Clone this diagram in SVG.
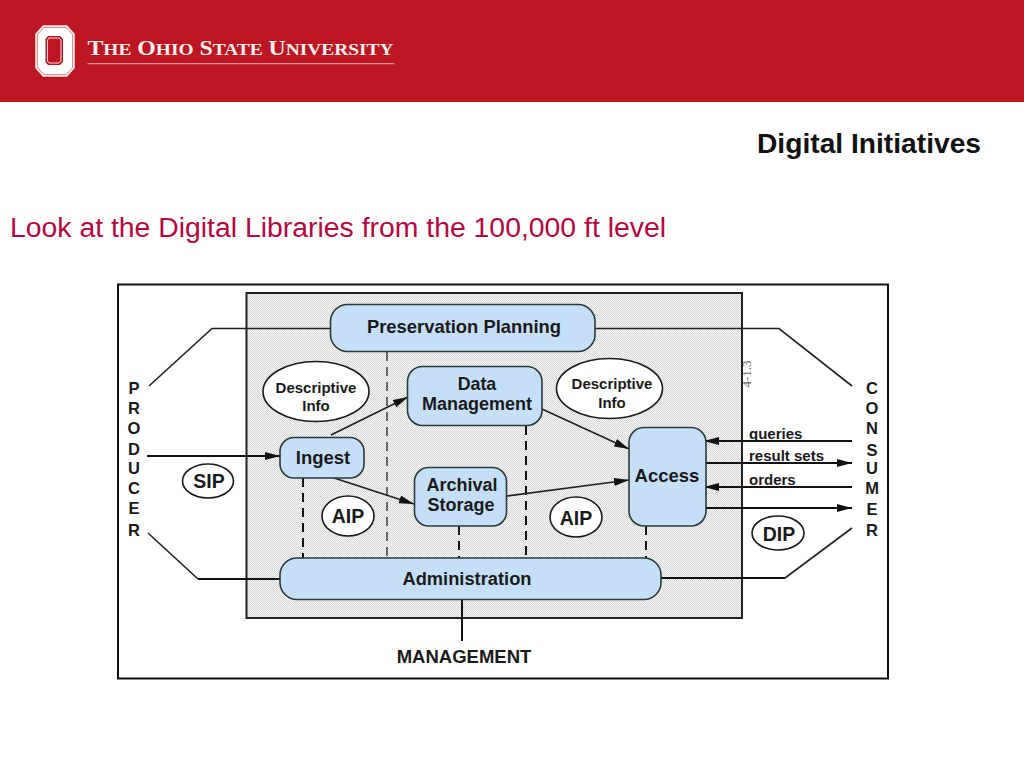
<svg xmlns="http://www.w3.org/2000/svg" width="1024" height="768" viewBox="0 0 1024 768">
<style>
.s{font-family:"Liberation Sans",Arial,sans-serif;font-weight:bold;fill:#1a1a1a;text-anchor:middle}
.la{text-anchor:start}
.box{fill:#c5dff8;stroke:#2a3a3a;stroke-width:1.6}
.ell{fill:#fff;stroke:#1a1a1a;stroke-width:1.6}
.ln{fill:none;stroke:#222;stroke-width:1.6}
.th{fill:none;stroke:#111;stroke-width:2}
.da{fill:none;stroke:#111;stroke-width:2;stroke-dasharray:9 6}
.da1{fill:none;stroke:#333;stroke-width:1.4;stroke-dasharray:9 6}
.serif{font-family:"Liberation Serif","Times New Roman",serif;font-weight:bold;fill:#f7eeee}
</style>
<defs>
<pattern id="dots" width="2" height="2" patternUnits="userSpaceOnUse">
<rect width="2" height="2" fill="#f4f4f4"/>
<rect width="1" height="1" fill="#d8d8d8"/>
<rect x="1" y="1" width="1" height="1" fill="#d8d8d8"/>
</pattern>
<marker id="ah" markerUnits="userSpaceOnUse" markerWidth="16" markerHeight="10" refX="15" refY="5" orient="auto">
<path d="M0,1 L15,5 L0,9 Z" fill="#111"/>
</marker>
</defs>
<rect width="1024" height="768" fill="#fff"/>
<g id="header">
<rect width="1024" height="102" fill="#bb1622"/>
<g id="logo">
<path d="M43,25.500 H67 L74.500,34 V68 L67,76.500 H43 L35.500,68 V34 Z" fill="#fff" stroke="#e8b9bb" stroke-width="1"/>
<path d="M37.300,34.500 L44,27.300 H66 L72.700,34.500 V67.500 L66,74.700 H44 L37.300,67.500 Z" fill="none" stroke="#c9525a" stroke-width="0.8"/>
<path d="M48,36 H60 L63,39 V62 L60,65 H48 L45.500,62 V39 Z" fill="#bb1622"/>
<path d="M49,38 H59 L61,40 V61 L59,63 H49 L47.500,61 V40 Z" fill="#bb1622" stroke="#f3d5d7" stroke-width="1"/>
</g>
<text class="serif" x="87.500" y="55" font-size="21.500" textLength="306" lengthAdjust="spacingAndGlyphs">T<tspan font-size="17.500">HE</tspan> O<tspan font-size="17.500">HIO</tspan> S<tspan font-size="17.500">TATE</tspan> U<tspan font-size="17.500">NIVERSITY</tspan></text>
<rect x="87.500" y="63" width="307" height="1.300" fill="#e58c90"/>
</g>
<text id="title" x="869" y="153" font-family="Liberation Sans,Arial,sans-serif" font-size="28" font-weight="bold" fill="#111" text-anchor="middle" textLength="224" lengthAdjust="spacingAndGlyphs">Digital Initiatives</text>
<text id="subtitle" x="10" y="237" font-family="Liberation Sans,Arial,sans-serif" font-size="27" fill="#b5073f" textLength="656" lengthAdjust="spacingAndGlyphs">Look at the Digital Libraries from the 100,000 ft level</text>
<g id="frame">
<rect x="118" y="284.500" width="770" height="394" fill="#fff" stroke="#111" stroke-width="2"/>
<rect x="246.500" y="293" width="495.500" height="325" fill="url(#dots)" stroke="#222" stroke-width="2"/>
</g>
<g id="connectors">
<path class="ln" d="M149,386 L212,328.500 H331"/>
<path class="ln" d="M595,328.500 H779 L852,386"/>
<path class="ln" d="M148,533 L198,579"/>
<path class="th" d="M198,579 H280"/>
<path class="th" d="M661,578 H785"/>
<path class="ln" d="M785,578 L852,528"/>
<path class="da1" d="M387,352 V558"/>
<path class="da" d="M526,426 V558"/>
<path class="da" d="M303,478 V558"/>
<path class="da" d="M459,526 V558"/>
<path class="da" d="M646,526 V558"/>
<path class="th" d="M462,600 V641"/>
<path class="th" d="M147,456 H280" marker-end="url(#ah)"/>
<path class="ln" d="M331,435 L408,397" marker-end="url(#ah)"/>
<path class="ln" d="M331,477 L414,504" marker-end="url(#ah)"/>
<path class="ln" d="M507,496 L629,480" marker-end="url(#ah)"/>
<path class="ln" d="M542,409 L629,449" marker-end="url(#ah)"/>
<path class="th" d="M852,441 H704" marker-end="url(#ah)"/>
<path class="th" d="M706,463 H852" marker-end="url(#ah)"/>
<path class="th" d="M852,487 H704" marker-end="url(#ah)"/>
<path class="th" d="M706,508 H852" marker-end="url(#ah)"/>
</g>
<g id="preservation"><rect class="box" x="330.500" y="304.500" width="264.500" height="47" rx="17"/><text class="s" x="464" y="333" font-size="18.400">Preservation Planning</text></g>
<g id="data"><rect class="box" x="407.500" y="366.500" width="134.500" height="59" rx="15"/><text class="s" x="477" y="390" font-size="17.800">Data</text><text class="s" x="477" y="409.500" font-size="18">Management</text></g>
<g id="ingest"><rect class="box" x="280" y="437.500" width="84" height="40.500" rx="14"/><text class="s" x="323" y="464" font-size="18.500">Ingest</text></g>
<g id="archival"><rect class="box" x="414.500" y="467.500" width="92" height="58.500" rx="14"/><text class="s" x="462" y="491" font-size="18">Archival</text><text class="s" x="461" y="511" font-size="18">Storage</text></g>
<g id="access"><rect class="box" x="629" y="427.500" width="77" height="98.500" rx="15"/><text class="s" x="667" y="482" font-size="18.500">Access</text></g>
<g id="administration"><rect class="box" x="280" y="558" width="381" height="41.500" rx="17"/><text class="s" x="467" y="585" font-size="18.300">Administration</text></g>
<g id="desc1"><ellipse class="ell" cx="316" cy="391.500" rx="53" ry="30"/><text class="s" x="316" y="393" font-size="15">Descriptive</text><text class="s" x="316" y="411" font-size="15">Info</text></g>
<g id="desc2"><ellipse class="ell" cx="609.500" cy="388.500" rx="53" ry="30"/><text class="s" x="612" y="389" font-size="15">Descriptive</text><text class="s" x="612" y="408" font-size="15">Info</text></g>
<g id="sip"><ellipse class="ell" cx="208" cy="481" rx="25.500" ry="17"/><text class="s" x="209" y="488" font-size="19.500">SIP</text></g>
<g id="aip1"><ellipse class="ell" cx="348" cy="516" rx="26" ry="20"/><text class="s" x="348" y="523" font-size="19.500">AIP</text></g>
<g id="aip2"><ellipse class="ell" cx="576" cy="517" rx="26" ry="20"/><text class="s" x="576" y="525" font-size="19.500">AIP</text></g>
<g id="dip"><ellipse class="ell" cx="778" cy="533" rx="26" ry="17"/><text class="s" x="779" y="541" font-size="19.500">DIP</text></g>
<g id="producer">
<text class="s" x="134" y="394" font-size="16.500">P</text><text class="s" x="134" y="414" font-size="16.500">R</text><text class="s" x="134" y="434" font-size="16.500">O</text><text class="s" x="134" y="455" font-size="16.500">D</text><text class="s" x="134" y="474" font-size="16.500">U</text><text class="s" x="134" y="494" font-size="16.500">C</text><text class="s" x="134" y="514" font-size="16.500">E</text><text class="s" x="134" y="536" font-size="16.500">R</text>
</g>
<g id="consumer">
<text class="s" x="872" y="394" font-size="16.500">C</text><text class="s" x="872" y="414" font-size="16.500">O</text><text class="s" x="872" y="434" font-size="16.500">N</text><text class="s" x="872" y="456" font-size="16.500">S</text><text class="s" x="872" y="474" font-size="16.500">U</text><text class="s" x="872" y="494" font-size="16.500">M</text><text class="s" x="872" y="515" font-size="16.500">E</text><text class="s" x="872" y="536" font-size="16.500">R</text>
</g>
<g id="labels">
<text class="s la" x="749" y="439" font-size="15">queries</text>
<text class="s la" x="749" y="461" font-size="15">result sets</text>
<text class="s la" x="749" y="485" font-size="15">orders</text>
<text class="s" x="464" y="663" font-size="18.500">MANAGEMENT</text>
<text x="751" y="374" font-family="Liberation Serif,serif" font-size="13" fill="#666" text-anchor="middle" transform="rotate(-90 751 374)">4-1.3</text>
</g>
</svg>
